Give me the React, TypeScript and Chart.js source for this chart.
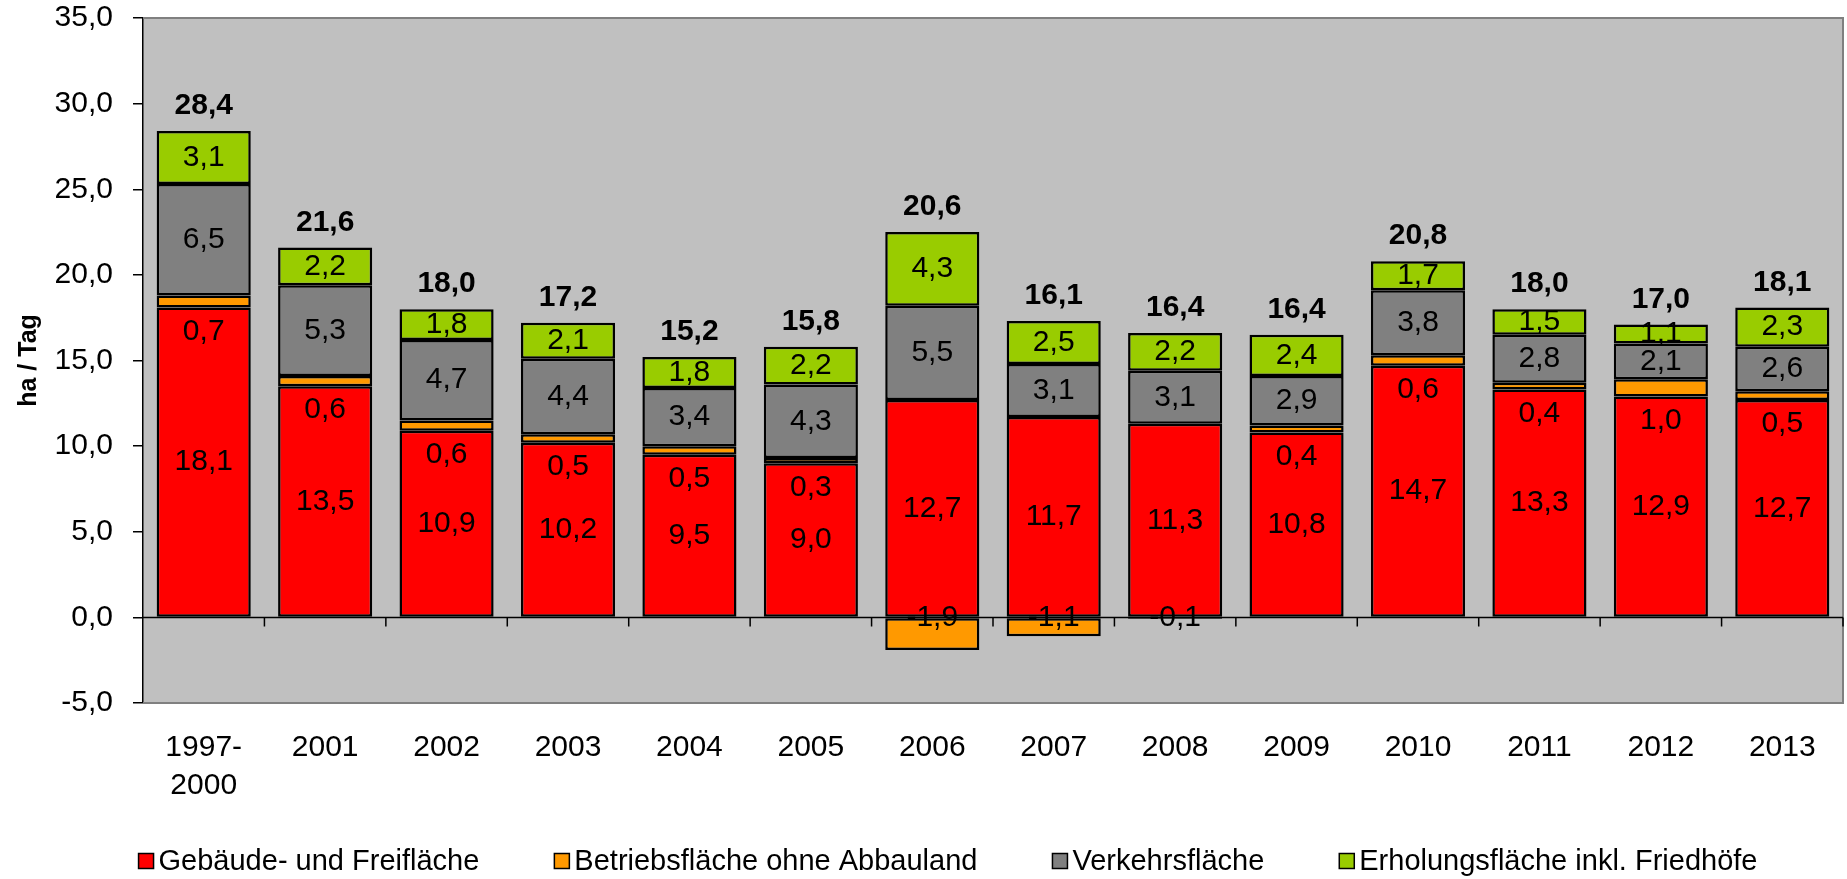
import React, { useEffect, useRef } from 'react';
import { Chart, registerables } from 'chart.js';

Chart.register(...registerables);

const FONT = '"Liberation Sans", Arial, Helvetica, sans-serif';

const categories: (string | string[])[] = [
  ['1997-', '2000'], '2001', '2002', '2003', '2004', '2005', '2006',
  '2007', '2008', '2009', '2010', '2011', '2012', '2013',
];
const gebaeudeFrei = [18.1, 13.5, 10.9, 10.2, 9.5, 9.0, 12.7, 11.7, 11.3, 10.8, 14.7, 13.3, 12.9, 12.7];
const betriebOhneAbbau = [0.7, 0.6, 0.6, 0.5, 0.5, 0.3, -1.9, -1.1, -0.1, 0.4, 0.6, 0.4, 1.0, 0.5];
const verkehr = [6.5, 5.3, 4.7, 4.4, 3.4, 4.3, 5.5, 3.1, 3.1, 2.9, 3.8, 2.8, 2.1, 2.6];
const erholung = [3.1, 2.2, 1.8, 2.1, 1.8, 2.2, 4.3, 2.5, 2.2, 2.4, 1.7, 1.5, 1.1, 2.3];
const totals = [28.4, 21.6, 18.0, 17.2, 15.2, 15.8, 20.6, 16.1, 16.4, 16.4, 20.8, 18.0, 17.0, 18.1];

const seriesLabels = [
  'Gebäude- und Freifläche',
  'Betriebsfläche ohne Abbauland',
  'Verkehrsfläche',
  'Erholungsfläche inkl. Friedhöfe',
];
const seriesColors = ['#FF0000', '#FF9900', '#808080', '#99CC00'];

const yMin = -5;
const yMax = 35;
const yStep = 5;

const fmt = (v: number) => v.toFixed(1).replace('.', ',');

const bgPlugin = {
  id: 'plotBg',
  beforeDraw(chart: any) {
    const { ctx, chartArea: a } = chart;
    ctx.save();
    ctx.fillStyle = '#C0C0C0';
    ctx.fillRect(a.left, a.top, a.right - a.left, a.bottom - a.top);
    ctx.restore();
  },
  beforeDatasetsDraw(chart: any) {
    const { ctx, chartArea: a, scales } = chart;
    ctx.save();
    ctx.strokeStyle = '#808080';
    ctx.lineWidth = 2;
    ctx.beginPath();
    ctx.moveTo(a.left, a.top);
    ctx.lineTo(a.right, a.top);
    ctx.lineTo(a.right, a.bottom);
    ctx.lineTo(a.left, a.bottom);
    ctx.stroke();
    const y0 = scales.y.getPixelForValue(0);
    ctx.strokeStyle = '#000';
    ctx.lineWidth = 1.5;
    ctx.beginPath();
    ctx.moveTo(a.left, y0);
    ctx.lineTo(a.right, y0);
    ctx.stroke();
    ctx.restore();
  },
  afterDatasetsDraw(chart: any) {
    const { ctx, chartArea: a, scales } = chart;
    const y0 = scales.y.getPixelForValue(0);
    const n = chart.data.labels.length;
    const w = (a.right - a.left) / n;
    ctx.save();
    ctx.strokeStyle = '#000';
    ctx.lineWidth = 1.5;
    ctx.beginPath();
    for (let i = 1; i <= n; i++) {
      const x = a.left + w * i;
      ctx.moveTo(x, y0);
      ctx.lineTo(x, y0 + 9);
    }
    ctx.stroke();

    ctx.fillStyle = '#000';
    ctx.textAlign = 'center';
    ctx.textBaseline = 'middle';
    ctx.font = `30px ${FONT}`;
    chart.data.datasets.forEach((ds: any, di: number) => {
      const meta = chart.getDatasetMeta(di);
      meta.data.forEach((el: any, j: number) => {
        const v = ds.data[j];
        const p = el.getProps(['x', 'y', 'base'], true);
        let ly = (p.y + p.base) / 2;
        if (di === 1) ly = v >= 0 ? p.base + 24 : p.base;
        ctx.fillText(fmt(v), p.x, ly);
      });
    });
    ctx.font = `bold 30px ${FONT}`;
    totals.forEach((t, j) => {
      let top = Infinity;
      let x = 0;
      chart.data.datasets.forEach((ds: any, di: number) => {
        const el: any = chart.getDatasetMeta(di).data[j];
        const p = el.getProps(['x', 'y'], true);
        x = p.x;
        if (ds.data[j] > 0) top = Math.min(top, p.y);
      });
      ctx.fillText(fmt(t), x, top - 25);
    });
    ctx.restore();
  },
  afterDraw(chart: any) {
    const { ctx } = chart;
    ctx.save();
    ctx.font = `29px ${FONT}`;
    ctx.textBaseline = 'middle';
    ctx.textAlign = 'left';
    const box = 15;
    const gapBT = 5;
    const gapItems = 75;
    const widths = seriesLabels.map((l) => ctx.measureText(l).width);
    const total = widths.reduce((s, w) => s + box + gapBT + w, 0) + gapItems * (seriesLabels.length - 1);
    let x = 948 - total / 2;
    const y = 861;
    seriesLabels.forEach((l, i) => {
      ctx.fillStyle = seriesColors[i];
      ctx.fillRect(x, y - box / 2, box, box);
      ctx.strokeStyle = '#000';
      ctx.lineWidth = 1.5;
      ctx.strokeRect(x, y - box / 2, box, box);
      ctx.fillStyle = '#000';
      ctx.fillText(l, x + box + gapBT, y + 1);
      x += box + gapBT + widths[i] + gapItems;
    });
    ctx.restore();
  },
};

export default function App() {
  const ref = useRef<HTMLCanvasElement | null>(null);
  useEffect(() => {
    if (!ref.current) return;
    const data = [gebaeudeFrei, betriebOhneAbbau, verkehr, erholung];
    const chart = new Chart(ref.current, {
      type: 'bar',
      data: {
        labels: categories as any,
        datasets: data.map((d, i) => ({
          label: seriesLabels[i],
          data: d,
          backgroundColor: seriesColors[i],
          borderColor: '#000',
          borderWidth: 2.5,
          borderSkipped: false,
          categoryPercentage: 1,
          barPercentage: 0.775,
        })),
      },
      options: {
        responsive: false,
        devicePixelRatio: 1,
        animation: false,
        events: [],
        layout: { padding: { top: 18, right: 4, left: 0, bottom: 0 } },
        plugins: {
          legend: { display: false },
          tooltip: { enabled: false },
        },
        scales: {
          x: {
            stacked: true,
            grid: { display: false },
            border: { display: false },
            ticks: {
              color: '#000',
              font: { family: FONT, size: 30, lineHeight: 1.25 },
              padding: 18,
              maxRotation: 0,
              autoSkip: false,
            },
            afterFit(scale: any) {
              scale.height = 176;
              scale.paddingLeft = 0;
              scale.paddingRight = 0;
            },
          },
          y: {
            stacked: true,
            min: yMin,
            max: yMax,
            grid: {
              display: true,
              drawOnChartArea: false,
              drawTicks: true,
              tickLength: 10,
              color: '#000',
              lineWidth: 1.5,
            },
            border: { display: true, color: '#000', width: 1.5 },
            ticks: {
              stepSize: yStep,
              color: '#000',
              padding: 20,
              font: { family: FONT, size: 30 },
              callback: (v: any) => fmt(Number(v)),
            },
            title: {
              display: true,
              text: 'ha / Tag',
              color: '#000',
              font: { family: FONT, size: 25, weight: 'bold' },
              padding: { top: 14, bottom: 0 },
            },
            afterFit(scale: any) {
              scale.width = 143;
              scale.paddingTop = 0;
              scale.paddingBottom = 0;
            },
          },
        },
      },
      plugins: [bgPlugin],
    });
    return () => chart.destroy();
  }, []);
  return (
    <canvas
      ref={ref}
      width={1847}
      height={879}
      style={{ position: 'absolute', left: 0, top: 0, width: 1847, height: 879 }}
    />
  );
}
